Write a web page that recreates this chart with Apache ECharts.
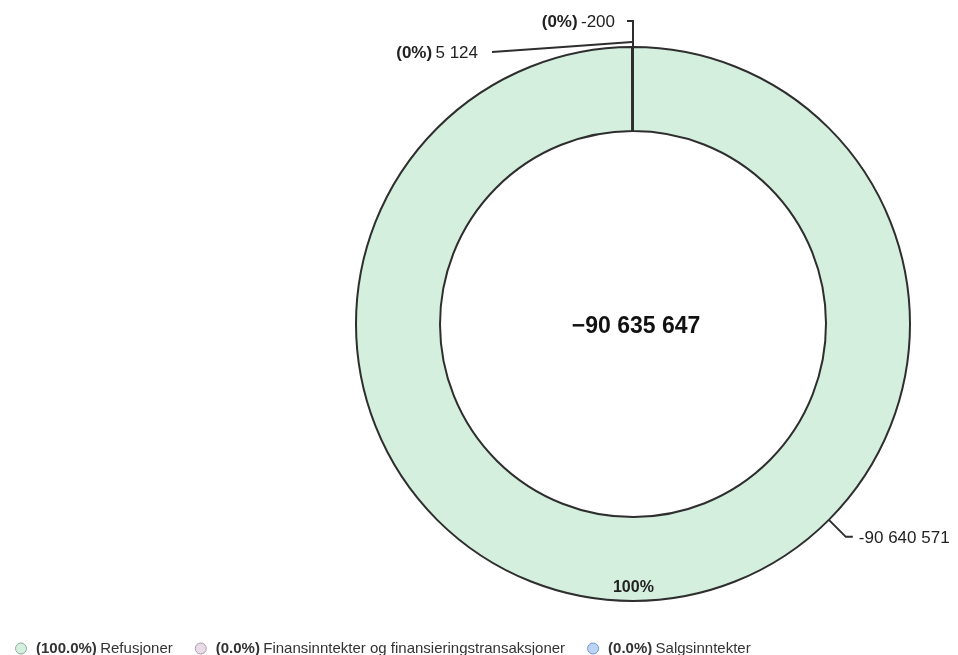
<!DOCTYPE html>
<html><head><meta charset="utf-8">
<script src="https://cdn.jsdelivr.net/npm/echarts@6/dist/echarts.min.js"></script>
<style>html,body{margin:0;padding:0;background:#fff}#c{width:958px;height:655px}</style>
</head><body><div id="c"></div>
<script>
const categories = ['Refusjoner', 'Finansinntekter og finansieringstransaksjoner', 'Salgsinntekter'];
const values = [-90640571, 5124, -200];
const colors = ['#d5efdf', '#e9dbe7', '#bcd4f3'];
const legendBorders = ['#8fae9b', '#ab9bab', '#7096cc'];

const FONT = '"Liberation Sans", Arial, sans-serif';
const absTotal = values.reduce((a, b) => a + Math.abs(b), 0);
const total = values.reduce((a, b) => a + b, 0);
const share = values.map(v => Math.abs(v) / absTotal * 100);
function fmt(v, minus) {
  const s = Math.abs(Math.round(v)).toString().replace(/\B(?=(\d{3})+(?!\d))/g, ' ');
  return (v < 0 ? (minus || '-') : '') + s;
}

const CX = 633, CY = 324, R = 277, R0 = 193;
const fillData = categories.map((n, i) => ({ name: n, value: Math.abs(values[i]), itemStyle: { color: colors[i] } }));
const outlineData = categories.map((n, i) => ({ name: n, value: Math.abs(values[i]) }));

const chart = echarts.init(document.getElementById('c'), null, { renderer: 'canvas' });
const c45 = Math.cos(Math.PI / 4), s45 = Math.sin(Math.PI / 4);

chart.setOption({
  animation: false,
  backgroundColor: '#fff',
  legend: {
    left: 10, top: 636, itemWidth: 20, itemHeight: 11, itemGap: 22, icon: 'circle', selectedMode: false,
    data: categories.map((n, i) => ({ name: n, itemStyle: { color: colors[i], borderColor: legendBorders[i], borderWidth: 1 } })),
    formatter: name => {
      const i = categories.indexOf(name);
      return '{b|(' + share[i].toFixed(1) + '%)} {n|' + name + '}';
    },
    textStyle: {
      fontFamily: FONT,
      rich: {
        b: { fontWeight: 'bold', fontSize: 15, color: '#333', fontFamily: FONT },
        n: { fontSize: 15, color: '#333', fontFamily: FONT }
      }
    }
  },
  graphic: [{
    type: 'text', x: CX + 3, y: CY + 3, silent: true,
    style: {
      text: fmt(total, '\u2212'), font: 'bold 23px ' + FONT, fill: '#111',
      align: 'center', verticalAlign: 'middle', textAlign: 'center', textVerticalAlign: 'middle'
    }
  }],
  series: [
    {
      type: 'pie', center: [CX, CY], radius: [R0, R], startAngle: 90, clockwise: true,
      avoidLabelOverlap: false, minAngle: 0.1,
      itemStyle: { borderWidth: 0 },
      emphasis: { disabled: true },
      label: {
        show: true, position: 'inside', fontFamily: FONT, fontWeight: 'bold', fontSize: 16, color: '#222',
        formatter: p => p.dataIndex === 0 ? Math.round(share[0]) + '%' : ''
      },
      labelLine: { show: false },
      labelLayout: p => p.dataIndex === 0 ? { dy: 26 } : {},
      data: fillData
    },
    {
      type: 'pie', center: [CX, CY], radius: [R0, R], startAngle: 90, clockwise: true, silent: true,
      avoidLabelOverlap: false, minAngle: 0.1,
      itemStyle: { color: 'rgba(0,0,0,0)', borderColor: '#2e2e2e', borderWidth: 2 },
      emphasis: { disabled: true },
      label: {
        show: true, position: 'outside', fontFamily: FONT,
        formatter: p => {
          const i = p.dataIndex;
          if (i === 0) return '{n|' + fmt(values[i]) + '}';
          return '{b|(' + Math.round(share[i]) + '%)} {n|' + fmt(values[i]) + '}';
        },
        rich: {
          b: { fontWeight: 'bold', fontSize: 17, color: '#222', fontFamily: FONT },
          n: { fontSize: 17, color: '#222', fontFamily: FONT }
        }
      },
      labelLine: { show: true, lineStyle: { color: '#2e2e2e', width: 2 } },
      labelLayout: p => {
        const i = p.dataIndex;
        if (i === 0) {
          const ax = CX + R * c45, ay = CY + R * s45;
          const bx = CX + (R + 24) * c45, by = CY + (R + 24) * s45;
          return { x: bx + 13, y: by + 1, align: 'left', verticalAlign: 'middle',
                   labelLinePoints: [[ax, ay], [bx, by], [bx + 7, by]] };
        }
        if (i === 1) {
          return { x: CX - 155, y: CY - R + 6, align: 'right', verticalAlign: 'middle',
                   labelLinePoints: [[CX - 1, CY - R - 5], [CX - 70, CY - R], [CX - 141, CY - R + 5]] };
        }
        return { x: CX - 18, y: CY - R - 25, align: 'right', verticalAlign: 'middle',
                 labelLinePoints: [[CX, CY - R], [CX, CY - R - 26], [CX - 6, CY - R - 26]] };
      },
      data: outlineData
    }
  ]
});
</script>
</body></html>
